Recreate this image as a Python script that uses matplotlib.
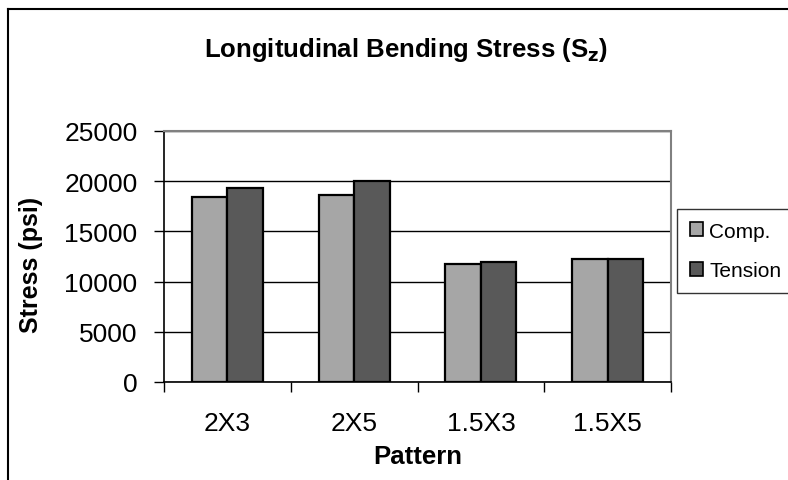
import matplotlib
matplotlib.use("Agg")
import matplotlib.pyplot as plt
from matplotlib.lines import Line2D
from matplotlib.patches import Patch
import numpy as np

plt.rcParams['font.family'] = ['Liberation Sans', 'DejaVu Sans']

patterns = ["2X3", "2X5", "1.5X3", "1.5X5"]
comp = [18400, 18650, 11800, 12250]
tension = [19300, 20000, 12000, 12250]
y_ticks = [0, 5000, 10000, 15000, 20000, 25000]

comp_color = "#a6a6a6"
tension_color = "#595959"

W, H = 788, 481
fig = plt.figure(figsize=(W / 100, H / 100), dpi=100)
ax = fig.add_axes([164 / W, 1 - 383 / H, (671 - 164) / W, (383 - 132) / H])

x = np.arange(len(patterns))
bw = 0.28
ax.bar(x - bw / 2, comp, width=bw, color=comp_color, edgecolor="black",
       linewidth=1.6, zorder=3, label="Comp.")
ax.bar(x + bw / 2, tension, width=bw, color=tension_color, edgecolor="black",
       linewidth=1.6, zorder=3, label="Tension")

ax.set_xlim(-0.5, len(patterns) - 0.5)
ax.set_ylim(0, 25000)
ax.set_yticks(y_ticks)
ax.set_yticklabels([str(v) for v in y_ticks], fontsize=19)
ax.yaxis.grid(True, color="black", linewidth=1.0, zorder=0)
ax.set_axisbelow(True)

# category labels centred, tick marks on the category boundaries
ax.set_xticks(x)
ax.set_xticklabels(patterns, fontsize=19)
ax.tick_params(axis="x", which="major", length=0, pad=21)
ax.set_xticks(np.arange(len(patterns) + 1) - 0.5, minor=True)
ax.tick_params(axis="x", which="minor", length=7, width=1.0, direction="out",
               color="black")
ax.tick_params(axis="y", length=7, width=1.0, direction="out", pad=12)

for side in ("top", "right"):
    ax.spines[side].set_color("#808080")
    ax.spines[side].set_linewidth(1.5)
for side in ("left", "bottom"):
    ax.spines[side].set_color("black")
    ax.spines[side].set_linewidth(1.2)

fig.text(406 / W, 1 - 50 / H, r"Longitudinal Bending Stress (S$_\mathbf{z}$)",
         ha="center", va="center", fontsize=18.5, fontweight="bold")
fig.text(31 / W, 1 - 265 / H, "Stress (psi)", rotation=90, ha="center",
         va="center", fontsize=18, fontweight="bold")
fig.text(418 / W, 1 - 457 / H, "Pattern", ha="center", va="center",
         fontsize=18.5, fontweight="bold")

handles = [Patch(facecolor=comp_color, edgecolor="black", linewidth=1.2),
           Patch(facecolor=tension_color, edgecolor="black", linewidth=1.2)]
leg = fig.legend(handles, ["Comp.", "Tension"], loc="center left",
                 bbox_to_anchor=(677 / W, 1 - 252 / H), fontsize=15,
                 frameon=True, fancybox=False, edgecolor="black",
                 handlelength=0.65, handleheight=0.65, handletextpad=0.3,
                 borderpad=0.6, labelspacing=1.0, borderaxespad=0)
leg.get_frame().set_linewidth(1.0)

# outer chart border (left and top edges)
fig.add_artist(Line2D([8 / W, 8 / W], [0, 1 - 10 / H], color="black",
                      linewidth=1.5, transform=fig.transFigure))
fig.add_artist(Line2D([8 / W, 1], [1 - 10 / H, 1 - 10 / H], color="black",
                      linewidth=1.5, transform=fig.transFigure))

fig.savefig("out.png", dpi=100)
